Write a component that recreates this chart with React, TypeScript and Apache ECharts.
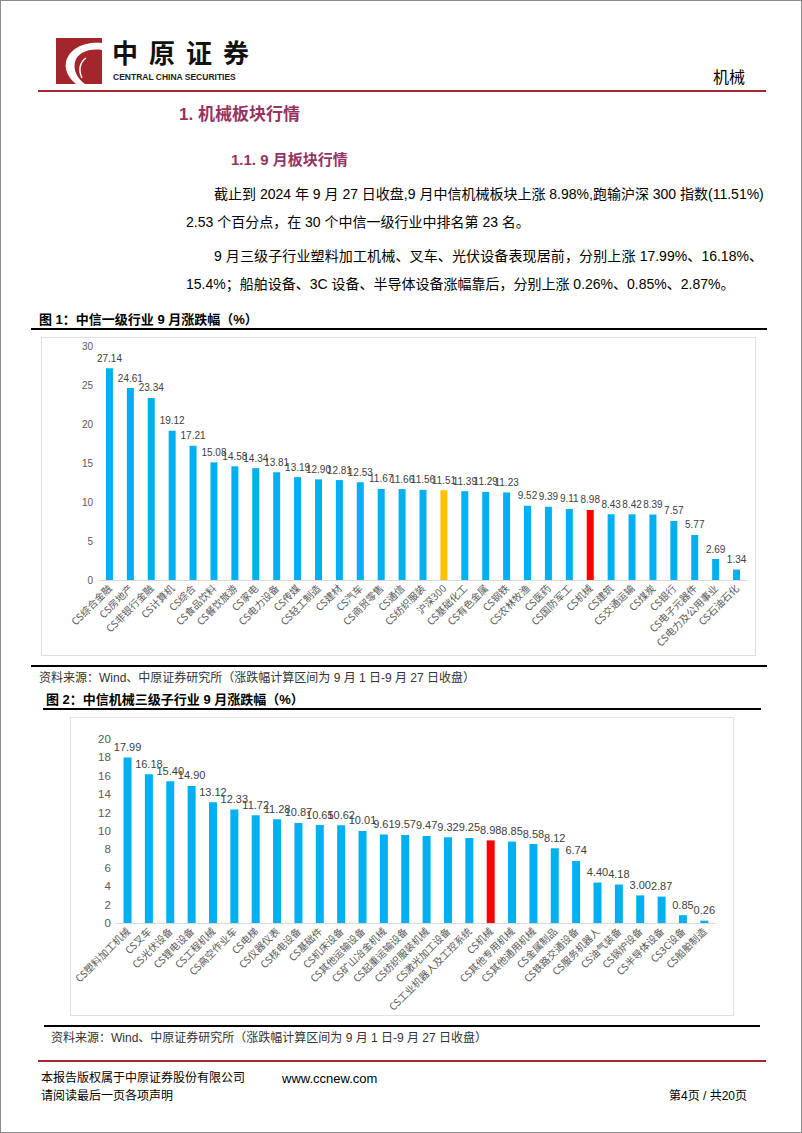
import React, { useEffect, useRef } from "react";
import * as echarts from "echarts";

// ---------- Data ----------
const industryNames = [
  "CS综合金融", "CS房地产", "CS非银行金融", "CS计算机", "CS综合", "CS食品饮料", "CS餐饮旅游",
  "CS家电", "CS电力设备", "CS传媒", "CS轻工制造", "CS建材", "CS汽车", "CS商贸零售", "CS通信",
  "CS纺织服装", "沪深300", "CS基础化工", "CS有色金属", "CS钢铁", "CS农林牧渔", "CS医药",
  "CS国防军工", "CS机械", "CS建筑", "CS交通运输", "CS煤炭", "CS银行", "CS电子元器件",
  "CS电力及公用事业", "CS石油石化",
];
const industryChanges = [
  27.14, 24.61, 23.34, 19.12, 17.21, 15.08, 14.58, 14.34, 13.81, 13.19, 12.9, 12.81, 12.53,
  11.67, 11.66, 11.56, 11.51, 11.39, 11.29, 11.23, 9.52, 9.39, 9.11, 8.98, 8.43, 8.42, 8.39,
  7.57, 5.77, 2.69, 1.34,
];
const industryTicks = { min: 0, max: 30, interval: 5 };

const subNames = [
  "CS塑料加工机械", "CS叉车", "CS光伏设备", "CS锂电设备", "CS工程机械", "CS高空作业车", "CS电梯",
  "CS仪器仪表", "CS核电设备", "CS基础件", "CS机床设备", "CS其他运输设备", "CS矿山冶金机械",
  "CS起重运输设备", "CS纺织服装机械", "CS激光加工设备", "CS工业机器人及工控系统", "CS机械",
  "CS其他专用机械", "CS其他通用机械", "CS金属制品", "CS铁路交通设备", "CS服务机器人",
  "CS油气装备", "CS锅炉设备", "CS半导体设备", "CS3C设备", "CS船舶制造",
];
const subChanges = [
  17.99, 16.18, 15.4, 14.9, 13.12, 12.33, 11.72, 11.28, 10.87, 10.65, 10.62, 10.01, 9.61, 9.57,
  9.47, 9.32, 9.25, 8.98, 8.85, 8.58, 8.12, 6.74, 4.4, 4.18, 3.0, 2.87, 0.85, 0.26,
];
const subTicks = { min: 0, max: 20, interval: 2 };

const BLUE = "#00B0F0";
const ORANGE = "#FFC000";
const RED = "#FF0000";
const AXIS_TEXT = "#595959";
const LABEL_TEXT = "#404040";
const CHART_FONT = "'Noto Sans CJK SC', 'Liberation Sans', sans-serif";

function barColor(name: string) {
  if (name === "沪深300") return ORANGE;
  if (name === "CS机械") return RED;
  return BLUE;
}

function buildOption(
  names: string[],
  values: number[],
  ticks: { min: number; max: number; interval: number },
  grid: any,
  sizes: { yFont: number; labelFont: number; xFont: number; barWidth: number; dist: number }
) {
  return {
    animation: false,
    textStyle: { fontFamily: CHART_FONT },
    grid,
    xAxis: {
      type: "category",
      data: names,
      axisTick: { show: false },
      axisLine: { lineStyle: { color: "#D9D9D9", width: 1 } },
      axisLabel: {
        interval: 0,
        rotate: 45,
        fontSize: sizes.xFont,
        color: AXIS_TEXT,
        margin: 6,
        fontFamily: CHART_FONT,
      },
    },
    yAxis: {
      type: "value",
      min: ticks.min,
      max: ticks.max,
      interval: ticks.interval,
      splitLine: { show: false },
      axisLine: { show: false },
      axisTick: { show: false },
      axisLabel: { fontSize: sizes.yFont, color: AXIS_TEXT, margin: 6, fontFamily: "'Liberation Sans', sans-serif" },
    },
    series: [
      {
        type: "bar",
        barWidth: sizes.barWidth,
        data: values.map((v, i) => ({ value: v, itemStyle: { color: barColor(names[i]) } })),
        label: {
          show: true,
          position: "top",
          distance: sizes.dist,
          fontSize: sizes.labelFont,
          color: LABEL_TEXT,
          fontFamily: "'Liberation Sans', sans-serif",
          formatter: (p: any) => Number(p.value).toFixed(2),
        },
      },
    ],
  };
}

function Chart({ option, style }: { option: any; style: React.CSSProperties }) {
  const ref = useRef<HTMLDivElement>(null);
  useEffect(() => {
    if (!ref.current) return;
    const chart = echarts.init(ref.current, undefined, { renderer: "svg" });
    chart.setOption(option);
    return () => chart.dispose();
  }, [option]);
  return <div ref={ref} style={style} />;
}

const BODY_FONT = "'Liberation Sans', 'Noto Sans CJK SC', sans-serif";

function T({
  x,
  y,
  size,
  children,
  bold,
  color,
  width,
  justify,
  right,
  font,
  spacing,
  lh,
}: {
  x: number;
  y: number;
  size: number;
  children: React.ReactNode;
  bold?: boolean;
  color?: string;
  width?: number;
  justify?: boolean;
  right?: boolean;
  font?: string;
  spacing?: number;
  lh?: number;
}) {
  const lineH = lh || size + 6;
  const st: React.CSSProperties = {
    position: "absolute",
    top: y - lineH / 2,
    fontSize: size,
    lineHeight: `${lineH}px`,
    height: lineH,
    fontWeight: bold ? 700 : 400,
    color: color || "#000",
    whiteSpace: "nowrap",
    fontFamily: font || BODY_FONT,
    letterSpacing: spacing ? `${spacing}px` : undefined,
  };
  if (right) {
    st.right = 802 - x;
    st.textAlign = "right";
  } else {
    st.left = x;
  }
  if (width) {
    st.width = width;
    if (justify) {
      st.textAlign = "justify";
      (st as any).textAlignLast = "justify";
    }
  }
  return <div style={st}>{children}</div>;
}

function HLine({ x1, x2, y, color, h }: { x1: number; x2: number; y: number; color: string; h: number }) {
  return (
    <div
      style={{ position: "absolute", left: x1, top: y - h / 2, width: x2 - x1, height: h, background: color }}
    />
  );
}

const option1 = buildOption(
  industryNames,
  industryChanges,
  industryTicks,
  { left: 57, right: 8, top: 8, bottom: 75 },
  { yFont: 10, labelFont: 10, xFont: 10, barWidth: 7, dist: 5 }
);
const option2 = buildOption(
  subNames,
  subChanges,
  subTicks,
  { left: 41, right: 18, top: 21, bottom: 92 },
  { yFont: 11.5, labelFont: 11, xFont: 10, barWidth: 8, dist: 5 }
);

const HEAD = "#943462";

export default function App() {
  useEffect(() => {
    document.body.style.margin = "0";
  }, []);
  return (
    <div
      style={{
        position: "absolute",
        left: 0,
        top: 0,
        width: 802,
        height: 1133,
        background: "#fff",
        boxSizing: "border-box",
        border: "1px solid #8c8c8c",
        overflow: "hidden",
      }}
    >
      {/* Logo */}
      <svg style={{ position: "absolute", left: 55, top: 37 }} width={46} height={46} viewBox="0 0 46 46">
        <rect x={0} y={0} width={46} height={46} fill="#A3262C" />
        <path
          d="M46 5 C 30 3, 13 10, 10 24 C 8 34, 15 42, 20 46 L 29 46 C 21 40, 17 32, 19 24 C 21 15, 33 10, 46 12 Z"
          fill="#fff"
        />
        <path d="M30 20 C 24 24, 22 32, 26 40" stroke="#fff" strokeWidth={1.5} fill="none" />
      </svg>
      <T x={111} y={51} size={26} lh={28} bold font="'Noto Sans CJK SC', sans-serif" spacing={11} color="#111">
        中原证券
      </T>
      <T x={112} y={75.5} size={8.5} lh={10} bold font="'Liberation Sans', sans-serif" color="#222">
        CENTRAL CHINA SECURITIES
      </T>
      <T x={746} y={75} size={16} right font="'Noto Sans CJK SC', sans-serif">
        机械
      </T>
      <HLine x1={37} x2={765} y={90} color="#A02A2E" h={2} />

      {/* Headings */}
      <T x={178} y={113} size={17} bold color={HEAD}>
        1. 机械板块行情
      </T>
      <T x={230} y={158} size={15} bold color={HEAD}>
        1.1. 9 月板块行情
      </T>

      {/* Paragraphs */}
      <T x={213} y={193} size={14} width={549} justify>
        截止到 2024 年 9 月 27 日收盘,9 月中信机械板块上涨 8.98%,跑输沪深 300 指数(11.51%)
      </T>
      <T x={185} y={221} size={14}>
        2.53 个百分点，在 30 个中信一级行业中排名第 23 名。
      </T>
      <T x={213} y={255} size={14} width={549} justify>
        9 月三级子行业塑料加工机械、叉车、光伏设备表现居前，分别上涨 17.99%、16.18%、
      </T>
      <T x={185} y={283} size={14}>
        15.4%；船舶设备、3C 设备、半导体设备涨幅靠后，分别上涨 0.26%、0.85%、2.87%。
      </T>

      {/* Figure 1 */}
      <T x={38} y={318} size={13} bold>
        图 1：中信一级行业 9 月涨跌幅（%）
      </T>
      <HLine x1={30} x2={766} y={328} color="#000" h={2} />
      <Chart
        option={option1}
        style={{
          position: "absolute",
          left: 40,
          top: 336,
          width: 715,
          height: 319,
          boxSizing: "border-box",
          border: "1px solid #E0E0E0",
        }}
      />
      <HLine x1={30} x2={766} y={665} color="#000" h={2} />
      <T x={38} y={677} size={12} color="#333">
        资料来源：Wind、中原证券研究所（涨跌幅计算区间为 9 月 1 日-9 月 27 日收盘）
      </T>

      {/* Figure 2 */}
      <T x={45} y={698} size={13} bold>
        图 2：中信机械三级子行业 9 月涨跌幅（%）
      </T>
      <HLine x1={42} x2={760} y={708} color="#000" h={2} />
      <Chart
        option={option2}
        style={{
          position: "absolute",
          left: 69,
          top: 716,
          width: 664,
          height: 299,
          boxSizing: "border-box",
          border: "1px solid #E0E0E0",
        }}
      />
      <HLine x1={43} x2={759} y={1025} color="#000" h={2} />
      <T x={50} y={1037} size={12} color="#333">
        资料来源：Wind、中原证券研究所（涨跌幅计算区间为 9 月 1 日-9 月 27 日收盘）
      </T>

      {/* Footer */}
      <HLine x1={37} x2={765} y={1060} color="#A02A2E" h={2} />
      <T x={40} y={1077} size={12}>
        本报告版权属于中原证券股份有限公司
      </T>
      <T x={281} y={1077} size={13}>
        www.ccnew.com
      </T>
      <T x={40} y={1095} size={12}>
        请阅读最后一页各项声明
      </T>
      <T x={748} y={1095} size={12} right>
        第4页 / 共20页
      </T>
    </div>
  );
}
